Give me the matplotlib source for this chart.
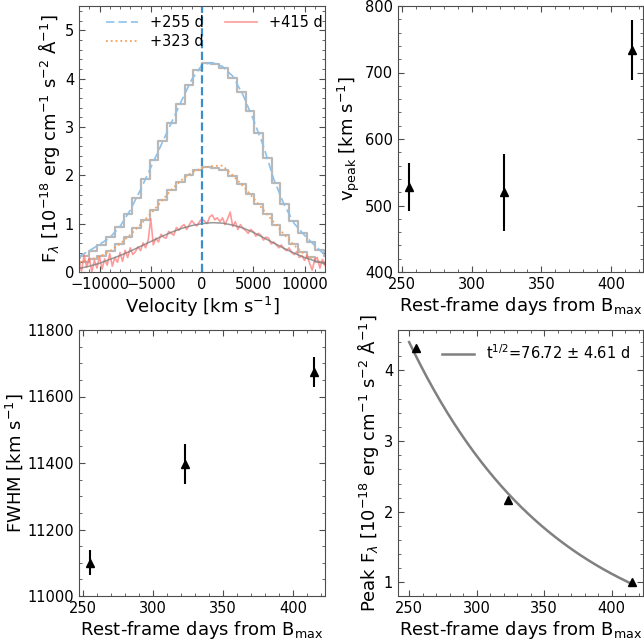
import numpy as np
import matplotlib
matplotlib.use("Agg")
import matplotlib.pyplot as plt
from matplotlib.ticker import MultipleLocator

# epochs (rest-frame days from B max)
epochs = [255, 323, 415]
epoch_labels = ["+255 d", "+323 d", "+415 d"]

# line profile parameters per epoch
v_peak = [528, 520, 734]
v_peak_err = [36, 58, 45]
fwhm = [11100, 11397, 11673]
fwhm_err = [37, 60, 45]
peak_flux = [4.32, 2.16, 1.00]
peak_flux_err = [0.02, 0.02, 0.02]
half_life_label = r"t$^{1/2}$=76.72 $\pm$ 4.61 d"

# observed spectra, read every 1000 km/s
vel = np.arange(-12000, 12001, 1000)
flux_255 = [0.32, 0.44, 0.57, 0.71, 0.94, 1.28, 1.70, 2.16, 2.62, 3.08, 3.54, 3.98, 4.28,
            4.33, 4.25, 4.05, 3.66, 3.16, 2.60, 1.92, 1.40, 1.00, 0.76, 0.55, 0.35]
flux_323 = [0.20, 0.25, 0.32, 0.43, 0.58, 0.77, 0.98, 1.21, 1.45, 1.70, 1.90, 2.06, 2.15,
            2.19, 2.20, 2.00, 1.78, 1.53, 1.28, 1.03, 0.78, 0.55, 0.37, 0.25, 0.17]

# binned model (gray steps), bins of 850 km/s
vel_bin = np.arange(-12325, 12326, 850)
model_255 = [0.29, 0.34, 0.43, 0.55, 0.72, 0.94, 1.20, 1.53, 1.92, 2.31, 2.70, 3.09, 3.48, 3.86, 4.17,
             4.32, 4.31, 4.21, 4.02, 3.72, 3.33, 2.87, 2.35, 1.83, 1.40, 1.06, 0.81, 0.62, 0.46, 0.33]
model_323 = [0.17, 0.21, 0.26, 0.34, 0.44, 0.57, 0.72, 0.90, 1.08, 1.29, 1.49, 1.69, 1.87, 2.01, 2.11,
             2.17, 2.16, 2.10, 1.98, 1.82, 1.62, 1.40, 1.19, 0.98, 0.77, 0.58, 0.42, 0.30, 0.21, 0.16]
# smooth model for the last epoch
model_415 = [0.07, 0.12, 0.18, 0.26, 0.34, 0.43, 0.53, 0.63, 0.73, 0.82, 0.90, 0.96, 1.00,
             1.02, 1.01, 0.97, 0.91, 0.82, 0.71, 0.60, 0.49, 0.39, 0.30, 0.23, 0.17]

# noisy +415 d spectrum, every 250 km/s
vel_fine = np.arange(-12000, 12001, 250)
flux_415 = [0.18, 0.02, 0.35, 0.10, 0.30, 0.00, 0.24, 0.08,
            0.32, 0.06, 0.27, 0.14, 0.38, 0.12, 0.30, 0.20,
            0.40, 0.22, 0.45, 0.30, 0.50, 0.36, 0.42, 0.52,
            0.44, 0.60, 0.50, 0.66, 1.10, 0.56, 0.70, 0.62,
            0.78, 0.72, 0.70, 0.84, 0.80, 0.76, 0.92, 0.86,
            0.94, 0.98, 0.88, 0.97, 1.06, 1.00, 0.95, 1.04,
            1.10, 1.05, 1.00, 1.14, 1.18, 1.08, 1.12, 1.04,
            1.12, 0.98, 1.10, 1.24, 0.94, 1.04, 0.88, 0.98,
            0.90, 0.86, 0.80, 0.88, 0.84, 0.74, 0.80, 0.76,
            0.66, 0.72, 0.70, 0.58, 0.62, 0.56, 0.50, 0.56,
            0.48, 0.44, 0.50, 0.40, 0.36, 0.42, 0.30, 0.34,
            0.24, 0.34, 0.18, 0.04, 0.26, 0.30, 0.08, 0.26,
            0.14]

plt.rcParams["font.family"] = "DejaVu Sans"
plt.rcParams["axes.edgecolor"] = "0.3"
plt.rcParams["xtick.color"] = "0.3"
plt.rcParams["ytick.color"] = "0.3"
plt.rcParams["xtick.labelcolor"] = "black"
plt.rcParams["ytick.labelcolor"] = "black"

LABEL_FS = 13
TICK_FS = 10.5


def style_axis(ax):
    ax.tick_params(which="both", direction="in", top=True, right=True, labelsize=TICK_FS)
    ax.tick_params(which="major", length=4.5)
    ax.tick_params(which="minor", length=2.5)


fig = plt.figure(figsize=(6.44, 6.42), dpi=100)
W, H = 644.0, 642.0
ax1 = fig.add_axes([79 / W, 1 - 272 / H, 246 / W, 266 / H])
ax2 = fig.add_axes([398 / W, 1 - 272 / H, 245 / W, 266 / H])
ax3 = fig.add_axes([79 / W, 1 - 596 / H, 246 / W, 266 / H])
ax4 = fig.add_axes([398 / W, 1 - 596 / H, 245 / W, 266 / H])

# --- panel 1: line profiles
ax1.plot(vel_bin, model_255, drawstyle="steps-mid", color="gray", alpha=0.55, lw=1.6)
ax1.plot(vel_bin, model_323, drawstyle="steps-mid", color="gray", alpha=0.55, lw=1.6)
ax1.plot(vel, flux_255, color="#8ec1ea", ls="--", dashes=(5, 2.5), lw=1.2, label=epoch_labels[0])
ax1.plot(vel, flux_323, color="#f5a25c", ls=":", lw=1.3, label=epoch_labels[1])
ax1.plot(vel_fine, flux_415, color="#ff7070", alpha=0.7, lw=1.2, label=epoch_labels[2])
ax1.plot(vel, model_415, color="gray", alpha=0.8, lw=1.1)
ax1.axvline(0, color="#3c8dcc", ls="--", lw=1.6)
ax1.set_xlim(-12000, 12000)
ax1.set_ylim(0, 5.5)
ax1.xaxis.set_major_locator(MultipleLocator(5000))
ax1.xaxis.set_minor_locator(MultipleLocator(1000))
ax1.yaxis.set_major_locator(MultipleLocator(1))
ax1.yaxis.set_minor_locator(MultipleLocator(0.2))
ax1.set_xlabel(r"Velocity [km s$^{-1}$]", fontsize=LABEL_FS, labelpad=2)
ax1.set_ylabel(r"F$_\lambda$ [10$^{-18}$ erg cm$^{-1}$ s$^{-2}$ Å$^{-1}$]", fontsize=LABEL_FS, labelpad=2)
ax1.legend(loc="upper center", ncol=2, frameon=False, fontsize=10.5,
           handlelength=2.2, columnspacing=1.5, borderaxespad=0.2, labelspacing=0.3,
           bbox_to_anchor=(0.55, 1.0))
style_axis(ax1)

# --- panel 2: peak velocity
ax2.errorbar(epochs, v_peak, yerr=v_peak_err, fmt="^", color="black", ms=6, elinewidth=1.5)
ax2.set_ylim(400, 800)
ax2.yaxis.set_major_locator(MultipleLocator(100))
ax2.yaxis.set_minor_locator(MultipleLocator(20))
ax2.xaxis.set_major_locator(MultipleLocator(50))
ax2.xaxis.set_minor_locator(MultipleLocator(10))
ax2.set_xlabel(r"Rest-frame days from B$_{\rm max}$", fontsize=LABEL_FS, labelpad=2)
ax2.set_ylabel(r"v$_{\rm peak}$ [km s$^{-1}$]", fontsize=LABEL_FS, labelpad=2)
style_axis(ax2)

# --- panel 3: FWHM
ax3.errorbar(epochs, fwhm, yerr=fwhm_err, fmt="^", color="black", ms=6, elinewidth=1.5)
ax3.set_ylim(11000, 11800)
ax3.yaxis.set_major_locator(MultipleLocator(200))
ax3.yaxis.set_minor_locator(MultipleLocator(50))
ax3.xaxis.set_major_locator(MultipleLocator(50))
ax3.xaxis.set_minor_locator(MultipleLocator(10))
ax3.set_xlabel(r"Rest-frame days from B$_{\rm max}$", fontsize=LABEL_FS, labelpad=2)
ax3.set_ylabel(r"FWHM [km s$^{-1}$]", fontsize=LABEL_FS, labelpad=2)
style_axis(ax3)

# --- panel 4: peak flux with exponential decline fit
slope, icpt = np.polyfit(epochs, np.log2(peak_flux), 1)
t_fit = np.linspace(250, 415, 200)
ax4.plot(t_fit, 2 ** (slope * t_fit + icpt), color="gray", lw=1.8, label=half_life_label)
ax4.errorbar(epochs, peak_flux, yerr=peak_flux_err, fmt="^", color="black", ms=6, elinewidth=1.5)
ax4.yaxis.set_major_locator(MultipleLocator(1))
ax4.yaxis.set_minor_locator(MultipleLocator(0.2))
ax4.xaxis.set_major_locator(MultipleLocator(50))
ax4.xaxis.set_minor_locator(MultipleLocator(10))
ax4.set_xlabel(r"Rest-frame days from B$_{\rm max}$", fontsize=LABEL_FS, labelpad=2)
ax4.set_ylabel(r"Peak F$_\lambda$ [10$^{-18}$ erg cm$^{-1}$ s$^{-2}$ Å$^{-1}$]", fontsize=LABEL_FS, labelpad=2)
ax4.legend(loc="upper right", frameon=False, fontsize=10.5, handlelength=2.2)
style_axis(ax4)

fig.savefig("out.png", dpi=100)
